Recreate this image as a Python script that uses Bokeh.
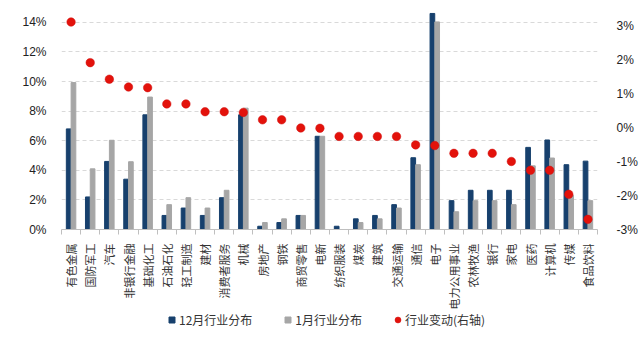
import math
from bokeh.plotting import figure
from bokeh.layouts import column
from bokeh.models import (ColumnDataSource, Range1d, LinearAxis, FixedTicker,
                          PrintfTickFormatter, Legend, LegendItem)
from bokeh.embed import file_html
from bokeh.resources import INLINE

categories = ["有色金属", "国防军工", "汽车", "非银行金融", "基础化工", "石油石化", "轻工制造",
              "建材", "消费者服务", "机械", "房地产", "钢铁", "商贸零售", "电新", "纺织服装",
              "煤炭", "建筑", "交通运输", "通信", "电子", "电力公用事业", "农林牧渔", "银行",
              "家电", "医药", "计算机", "传媒", "食品饮料"]
dec_share = [6.8, 2.2, 4.6, 3.4, 7.75, 0.95, 1.45, 0.95, 2.15, 7.75, 0.22, 0.47, 0.95, 6.3,
             0.22, 0.72, 0.95, 1.68, 4.85, 14.6, 1.95, 2.65, 2.65, 2.65, 5.55, 6.05, 4.38, 4.62]
jan_share = [9.93, 4.1, 6.03, 4.58, 8.95, 1.68, 2.15, 1.45, 2.65, 8.2, 0.47, 0.72, 0.95, 6.3,
             0.0, 0.47, 0.72, 1.45, 4.38, 14.03, 1.2, 1.95, 1.95, 1.68, 4.3, 4.83, 2.3, 1.95]
change = [3.13, 1.93, 1.44, 1.21, 1.19, 0.71, 0.71, 0.48, 0.48, 0.46, 0.24, 0.24, 0.0, -0.01,
          -0.25, -0.25, -0.25, -0.25, -0.5, -0.52, -0.75, -0.75, -0.75, -0.99, -1.25, -1.25,
          -1.96, -2.7]
left_ticks = [0, 2, 4, 6, 8, 10, 12, 14]
right_ticks = [-3, -2, -1, 0, 1, 2, 3]
series_names = ["12月行业分布", "1月行业分布", "行业变动(右轴)"]

DARK = "#17406D"
GRAY = "#A6A6A6"
RED = "#E3120B"
CJK = "Noto Sans CJK SC"
LAT = "Liberation Sans"

idx = list(range(len(categories)))
src = ColumnDataSource(dict(
    x=idx,
    xd=[i - 0.125 for i in idx],
    xj=[i + 0.125 for i in idx],
    dec=dec_share, jan=jan_share, chg=change,
))

p = figure(width=640, height=312, output_backend="svg", toolbar_location=None,
           x_range=Range1d(-0.5, len(categories) - 0.5), y_range=Range1d(0, 14.8),
           min_border_left=61, min_border_right=43, min_border_top=10, min_border_bottom=81,
           outline_line_color=None, background_fill_color="white", border_fill_color="white")
p.extra_y_ranges = {"right": Range1d(-3, 3.47)}

p.vbar(x="xd", top="dec", width=0.245, source=src, color=DARK)
p.vbar(x="xj", top="jan", width=0.245, source=src, color=GRAY)
p.scatter(x="x", y="chg", source=src, y_range_name="right", size=8.5,
          fill_color=RED, line_color="#D01010", line_width=0.5)

# x axis
xa = p.xaxis[0]
xa.ticker = FixedTicker(ticks=idx, minor_ticks=[i + 0.5 for i in range(-1, len(categories))])
xa.major_label_overrides = {i: c for i, c in enumerate(categories)}
xa.major_label_orientation = math.pi / 2
xa.major_label_text_font = CJK
xa.major_label_text_font_size = "11px"
xa.major_label_text_color = "#333333"
xa.major_label_standoff = 9
xa.major_tick_line_color = None
xa.major_tick_out = 0
xa.major_tick_in = 0
xa.minor_tick_line_color = "#BFBFBF"
xa.minor_tick_out = 5
xa.minor_tick_in = 0
xa.axis_line_color = "#BFBFBF"

# left axis
ya = p.yaxis[0]
ya.ticker = FixedTicker(ticks=left_ticks)
ya.formatter = PrintfTickFormatter(format="%d%%")
ya.axis_line_color = None
ya.major_tick_line_color = None
ya.minor_tick_line_color = None
ya.major_label_text_font = LAT
ya.major_label_text_font_size = "12px"
ya.major_label_text_color = "#222222"
ya.major_label_standoff = 9

ra = LinearAxis(y_range_name="right", ticker=FixedTicker(ticks=right_ticks),
                formatter=PrintfTickFormatter(format="%d%%"))
ra.axis_line_color = None
ra.major_tick_line_color = None
ra.minor_tick_line_color = None
ra.major_label_text_font = LAT
ra.major_label_text_font_size = "12px"
ra.major_label_text_color = "#222222"
ra.major_label_standoff = 13
p.add_layout(ra, "right")

p.xgrid.grid_line_color = None
p.ygrid.ticker = FixedTicker(ticks=left_ticks[1:])
p.ygrid.grid_line_color = "#D9D9D9"
p.ygrid.grid_line_dash = "4 3"

# legend strip below the chart (legend swatches use off-range placeholder points)
lg = figure(width=640, height=26, output_backend="svg", toolbar_location=None,
            x_range=Range1d(0, 1), y_range=Range1d(0, 1),
            min_border_left=61, min_border_right=43, min_border_top=0, min_border_bottom=0,
            outline_line_color=None, background_fill_color="white", border_fill_color="white")
lg.axis.visible = False
lg.grid.visible = False
l1 = lg.scatter(x=[-5], y=[-5], marker="square", size=7, color=DARK)
l2 = lg.scatter(x=[-5], y=[-5], marker="square", size=7, color=GRAY)
l3 = lg.scatter(x=[-5], y=[-5], size=8, fill_color=RED, line_color="#D01010", line_width=0.5)
legend = Legend(items=[LegendItem(label=series_names[0], renderers=[l1]),
                       LegendItem(label=series_names[1], renderers=[l2]),
                       LegendItem(label=series_names[2], renderers=[l3])],
                orientation="horizontal", location=(103, 10),
                label_text_font=CJK, label_text_font_size="12px", label_text_color="#333333",
                label_height=12, glyph_width=15, glyph_height=15, spacing=28, padding=0,
                margin=0, label_standoff=0, background_fill_alpha=0, border_line_color=None)
lg.add_layout(legend, "center")

layout = column(p, lg, spacing=0)
open("out.html", "w").write(file_html(layout, INLINE))
